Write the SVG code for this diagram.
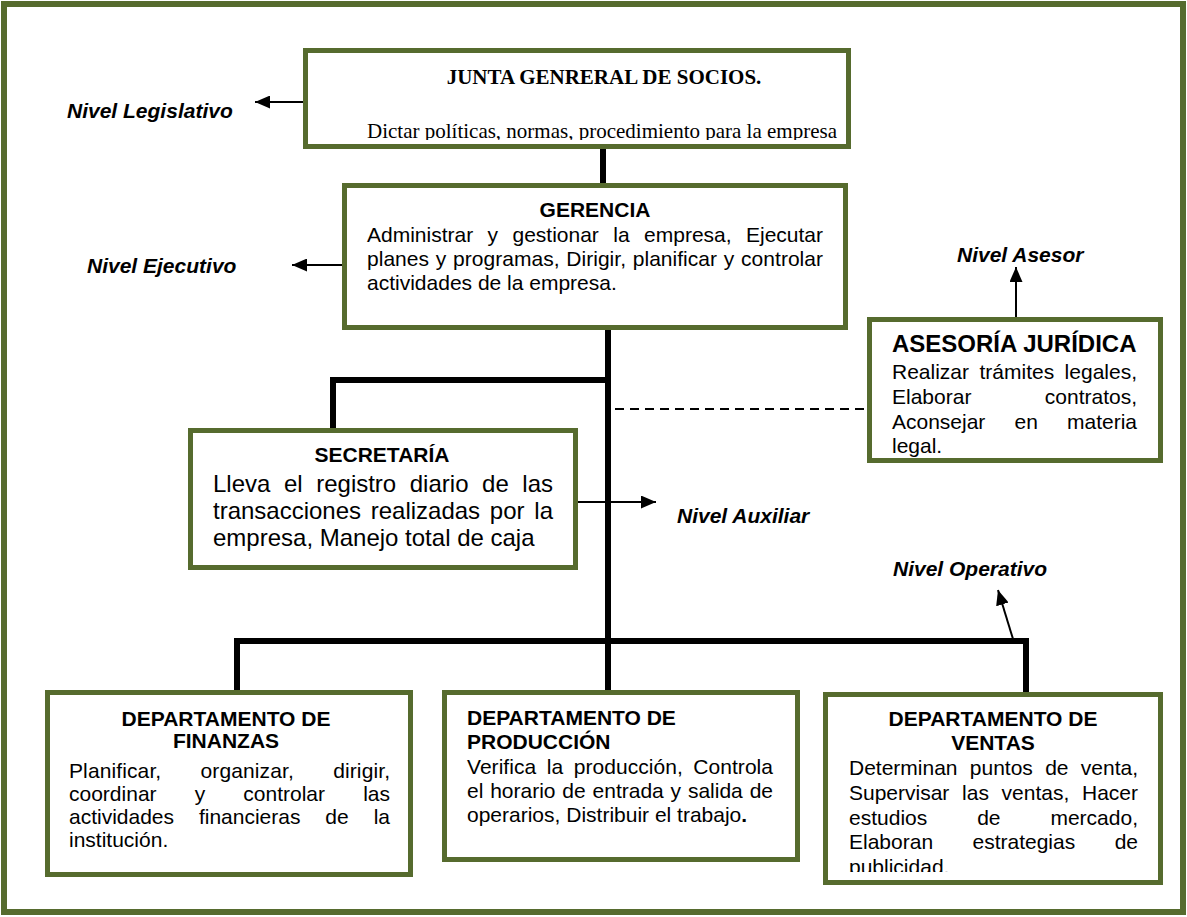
<svg xmlns="http://www.w3.org/2000/svg" width="1187" height="917" viewBox="0 0 1187 917">
<style>
.frame{fill:#fff;stroke:#566b2e;stroke-width:6}
.box{fill:#fff;stroke:#566b2e;stroke-width:5}
.t{font-family:"Liberation Sans",Arial,sans-serif;font-size:21px;fill:#000}
.t24{font-size:24px}
.b{font-weight:bold}
.lvl{font-family:"Liberation Sans",Arial,sans-serif;font-size:21px;font-weight:bold;font-style:italic;fill:#000}
.tr{font-family:"Liberation Serif","Times New Roman",serif;font-size:21px;fill:#000}
.thick{stroke:#000;stroke-width:6;fill:none}
.thin{stroke:#000;stroke-width:2;fill:none}
.dash{stroke:#000;stroke-width:2;stroke-dasharray:9 6;fill:none}
</style>
<defs>
<marker id="ah" markerWidth="15" markerHeight="13" refX="15" refY="6.5" orient="auto" markerUnits="userSpaceOnUse">
<path d="M0,0 L15,6.5 L0,13 z" fill="#000"/>
</marker>
<clipPath id="clipJ"><rect x="308" y="53" width="538" height="87"/></clipPath>
<clipPath id="clipV"><rect x="828" y="697" width="330" height="175"/></clipPath>
</defs>
<rect class="frame" x="4" y="4" width="1179" height="908"/>
<g id="connectors">
<line class="thick" x1="603" y1="148" x2="603" y2="186"/>
<line class="thick" x1="608" y1="328" x2="608" y2="644"/>
<polyline class="thick" points="611,380 333,380 333,432"/>
<polyline class="thick" points="237,692 237,641 1026,641 1026,696"/>
<line class="thick" x1="608" y1="641" x2="608" y2="692"/>
<line class="dash" x1="615" y1="409" x2="868" y2="409"/>
<line class="thin" x1="304" y1="102" x2="255" y2="102" marker-end="url(#ah)"/>
<line class="thin" x1="343" y1="265" x2="292" y2="265" marker-end="url(#ah)"/>
<line class="thin" x1="1016" y1="318" x2="1016" y2="267" marker-end="url(#ah)"/>
<line class="thin" x1="576" y1="502" x2="656" y2="502" marker-end="url(#ah)"/>
<line class="thin" x1="1013" y1="639" x2="998" y2="590" marker-end="url(#ah)"/>
</g>
<g id="nivel-legislativo"><text class="lvl" x="67" y="118">Nivel Legislativo</text></g>
<g id="nivel-ejecutivo"><text class="lvl" x="87" y="273">Nivel Ejecutivo</text></g>
<g id="nivel-asesor"><text class="lvl" x="957" y="262">Nivel Asesor</text></g>
<g id="nivel-auxiliar"><text class="lvl" x="677" y="523">Nivel Auxiliar</text></g>
<g id="nivel-operativo"><text class="lvl" x="893" y="576">Nivel Operativo</text></g>
<g id="junta">
<rect class="box" x="305.5" y="50.5" width="543" height="96"/>
<text class="tr b" x="604" y="84" text-anchor="middle">JUNTA GENRERAL DE SOCIOS.</text>
<text class="tr" x="602" y="138" text-anchor="middle" clip-path="url(#clipJ)">Dictar políticas, normas, procedimiento para la empresa</text>
</g>
<g id="gerencia">
<rect class="box" x="344.5" y="185.5" width="501" height="142"/>
<text class="t b" x="595" y="217" text-anchor="middle">GERENCIA</text>
<text class="t" x="367" y="242" word-spacing="8.6" textLength="456">Administrar y gestionar la empresa, Ejecutar</text>
<text class="t" x="367" y="266" word-spacing="0.9" textLength="456">planes y programas, Dirigir, planificar y controlar</text>
<text class="t" x="367" y="290">actividades de la empresa.</text>
</g>
<g id="asesoria">
<rect class="box" x="869.5" y="319.5" width="291" height="141"/>
<text class="t t24 b" x="892" y="352">ASESORÍA JURÍDICA</text>
<text class="t" x="892" y="379" word-spacing="4.6" textLength="245">Realizar trámites legales,</text>
<text class="t" x="892" y="404" word-spacing="67.6" textLength="245">Elaborar contratos,</text>
<text class="t" x="892" y="429" word-spacing="23.3" textLength="245">Aconsejar en materia</text>
<text class="t" x="892" y="453">legal.</text>
</g>
<g id="secretaria">
<rect class="box" x="190.5" y="430.5" width="385" height="137"/>
<text class="t b" x="382" y="462" text-anchor="middle">SECRETARÍA</text>
<text class="t t24" x="213" y="492" word-spacing="6.9" textLength="340">Lleva el registro diario de las</text>
<text class="t t24" x="213" y="519" word-spacing="3.1" textLength="340">transacciones realizadas por la</text>
<text class="t t24" x="213" y="546">empresa, Manejo total de caja</text>
</g>
<g id="finanzas">
<rect class="box" x="47.5" y="692.5" width="363" height="182"/>
<text class="t b" x="226" y="726" text-anchor="middle">DEPARTAMENTO DE</text>
<text class="t b" x="226" y="748" text-anchor="middle">FINANZAS</text>
<text class="t" x="69" y="778" word-spacing="33.3" textLength="321">Planificar, organizar, dirigir,</text>
<text class="t" x="69" y="801" word-spacing="32.3" textLength="321">coordinar y controlar las</text>
<text class="t" x="69" y="824" word-spacing="19.1" textLength="321">actividades financieras de la</text>
<text class="t" x="69" y="847">institución.</text>
</g>
<g id="produccion">
<rect class="box" x="444.5" y="692.5" width="353" height="167"/>
<text class="t b" x="467" y="725">DEPARTAMENTO DE</text>
<text class="t b" x="467" y="749">PRODUCCIÓN</text>
<text class="t" x="467" y="774" word-spacing="4.7" textLength="306">Verifica la producción, Controla</text>
<text class="t" x="467" y="798" word-spacing="1" textLength="306">el horario de entrada y salida de</text>
<text class="t" x="467" y="822">operarios, Distribuir el trabajo<tspan class="b">.</tspan></text>
</g>
<g id="ventas">
<rect class="box" x="825.5" y="694.5" width="335" height="188"/>
<text class="t b" x="993" y="726" text-anchor="middle">DEPARTAMENTO DE</text>
<text class="t b" x="993" y="750" text-anchor="middle">VENTAS</text>
<text class="t" x="849" y="775" word-spacing="6.5" textLength="289">Determinan puntos de venta,</text>
<text class="t" x="849" y="800" word-spacing="6.9" textLength="289">Supervisar las ventas, Hacer</text>
<text class="t" x="849" y="825" word-spacing="44.1" textLength="289">estudios de mercado,</text>
<text class="t" x="849" y="849" word-spacing="33.6" textLength="289">Elaboran estrategias de</text>
<text class="t" x="849" y="874" clip-path="url(#clipV)">publicidad.</text>
</g>
</svg>
